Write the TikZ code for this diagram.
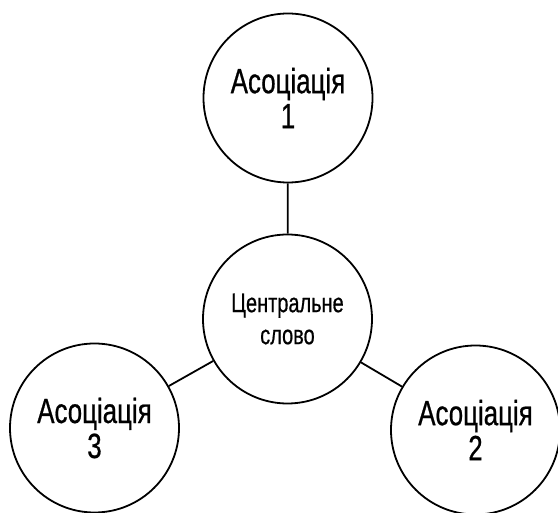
\documentclass[tikz,border=0pt]{standalone}
\usepackage{fontspec}
\setmainfont[FakeStretch=0.74,FakeBold=0.6]{Liberation Sans}
\begin{document}
\begin{tikzpicture}[x=1pt,y=-1pt,
  bubble/.style={draw=black,line width=1.8pt,circle,fill=white,minimum size=169pt,inner sep=0pt,align=center},
  assoc/.style={bubble,font=\fontsize{35}{35}\selectfont},
  centre/.style={bubble,font=\fontsize{27}{32}\selectfont},
  link/.style={draw=black,line width=1.8pt}]
\useasboundingbox (0,0) rectangle (558,513);
\node[assoc] (a1) at (288,98) {Асоціація\\1};
\node[centre] (c) at (287.5,319) {Центральне\\слово};
\node[assoc] (a3) at (94.5,428) {Асоціація\\3};
\node[assoc] (a2) at (475.5,430) {Асоціація\\2};
\draw[link] (c) -- (a1);
\draw[link] (c) -- (a3);
\draw[link] (c) -- (a2);
\end{tikzpicture}
\end{document}
